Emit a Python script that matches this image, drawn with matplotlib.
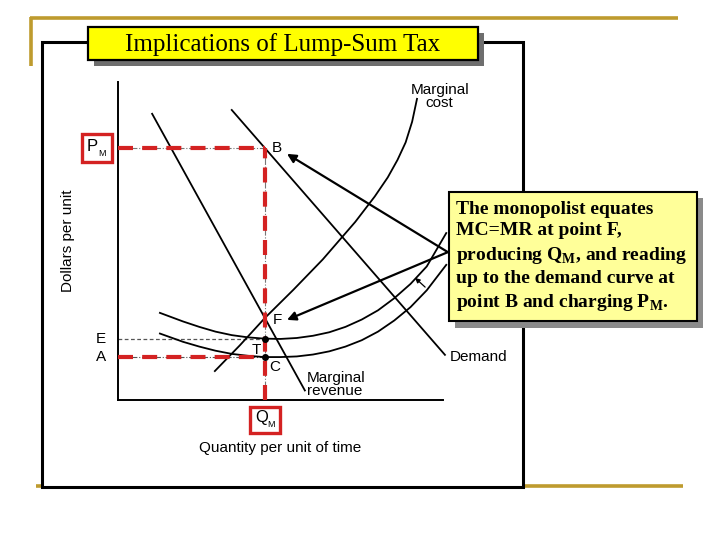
import matplotlib
matplotlib.use("Agg")
import matplotlib.pyplot as plt
from matplotlib.patches import Rectangle

plt.rcParams['mathtext.fontset'] = 'custom'
plt.rcParams['mathtext.rm'] = 'Liberation Serif:bold'
plt.rcParams['mathtext.bf'] = 'Liberation Serif:bold'

# ---------------- data (quantity, dollars per unit) ----------------
demand_q = [3.5, 10.06]
demand_p = [9.12, 1.42]
mr_q = [1.05, 5.75]
mr_p = [9.0, 0.3]
mc_q = [2.98, 3.75, 4.52, 5.4, 6.3, 7.3, 7.9, 8.3, 8.6, 8.85, 9.05, 9.2]
mc_p = [0.91, 1.72, 2.58, 3.47, 4.42, 5.6, 6.4, 7.0, 7.55, 8.1, 8.75, 9.47]
atc_tax_q = [1.29, 2.0, 2.5, 3.0, 3.5, 4.0, 4.5, 5.0, 5.5, 6.0, 6.5, 7.0, 7.5, 8.0, 8.5, 9.0, 9.5, 10.1]
atc_tax_p = [2.74, 2.47, 2.3, 2.15, 2.04, 1.97, 1.93, 1.92, 1.95, 2.02, 2.13, 2.3, 2.53, 2.82, 3.2, 3.65, 4.2, 5.25]
atc_q = [1.29, 2.0, 2.5, 3.0, 3.5, 4.0, 4.5, 5.0, 5.5, 6.0, 6.5, 7.0, 7.5, 8.0, 8.5, 9.0, 9.5, 10.1]
atc_p = [2.09, 1.83, 1.68, 1.55, 1.45, 1.39, 1.35, 1.35, 1.37, 1.43, 1.53, 1.68, 1.88, 2.15, 2.5, 2.92, 3.45, 4.25]
QM = 4.52
PM = 7.92
E_level = 1.92
A_level = 1.35
F_level = 2.58
callout_tail = (10.15, 4.65)
head_B = (5.2, 7.74)
head_F = (5.2, 2.52)
shift_tail = (9.45, 3.55)
shift_head = (9.14, 3.84)

title = "Implications of Lump-Sum Tax"
callout = ("The monopolist equates\n"
           "MC=MR at point F,\n"
           "producing Q$_{\\mathrm{M}}$, and reading\n"
           "up to the demand curve at\n"
           "point B and charging P$_{\\mathrm{M}}$.")

GOLD = '#BE9B2E'
RED = '#D42222'
SANS = 'Liberation Sans'
SERIF = 'Liberation Serif'

fig = plt.figure(figsize=(7.2, 5.4), dpi=100)

# ---------------- slide background / frame ----------------
bg = fig.add_axes([0, 0, 1, 1], zorder=0)
bg.set_xlim(0, 720)
bg.set_ylim(540, 0)
bg.axis('off')
bg.plot([30, 678], [18, 18], color=GOLD, lw=2.6, solid_capstyle='butt', zorder=1)
bg.plot([31, 31], [17, 66], color=GOLD, lw=2.6, solid_capstyle='butt', zorder=1)
bg.plot([36, 683], [486, 486], color=GOLD, lw=2.6, solid_capstyle='butt', zorder=1)
bg.add_patch(Rectangle((42, 42), 481, 445, facecolor='white', edgecolor='black', lw=2.2,
                       zorder=3))

# ---------------- diagram ----------------
ax = fig.add_axes([118 / 720, 140 / 540, 325 / 720, 318 / 540], zorder=2)
ax.set_xlim(0, 10)
ax.set_ylim(0, 10)
ax.patch.set_alpha(0)
for s in ['top', 'right']:
    ax.spines[s].set_visible(False)
for s in ['left', 'bottom']:
    ax.spines[s].set_linewidth(1.4)
ax.set_xticks([])
ax.set_yticks([])

kw = dict(color='black', lw=1.3, clip_on=False)
ax.plot(demand_q, demand_p, **kw)
ax.plot(mr_q, mr_p, **kw)
ax.plot(mc_q, mc_p, **kw)
ax.plot(atc_tax_q, atc_tax_p, **kw)
ax.plot(atc_q, atc_p, **kw)

# thin guide lines of the original diagram
ax.plot([0, QM], [PM, PM], color='#777777', lw=0.8, ls='-.', zorder=1)
ax.plot([QM, QM], [0, PM], color='#777777', lw=0.8, ls='-.', zorder=1)
ax.plot([0, QM], [A_level, A_level], color='#555555', lw=0.8, ls='-.', zorder=1)
ax.plot([0, QM], [E_level, E_level], color='#555555', lw=0.9, ls=(0, (3, 2)), zorder=1)

# red dashed highlights
rd = dict(color=RED, lw=3.0, ls=(0, (3.6, 2.2)), zorder=4, solid_capstyle='butt')
ax.plot([0, QM], [PM, PM], **rd)
ax.plot([QM, QM], [0, PM], **rd)
ax.plot([0, QM], [A_level, A_level], **rd)

ax.plot([QM, QM], [E_level, A_level], 'o', color='black', ms=4, zorder=5)

# arrows from callout
ap = dict(arrowstyle='-|>', color='black', lw=1.6, mutation_scale=13, shrinkA=0, shrinkB=0)
ax.annotate('', xy=head_B, xytext=callout_tail, arrowprops=ap, annotation_clip=False)
ax.annotate('', xy=head_F, xytext=callout_tail, arrowprops=ap, annotation_clip=False)
ax.annotate('', xy=shift_head, xytext=shift_tail,
            arrowprops=dict(arrowstyle='-|>', color='black', lw=0.9, mutation_scale=7,
                            shrinkA=0, shrinkB=0), annotation_clip=False)

tk = dict(fontfamily=SANS, fontsize=11, color='black', clip_on=False)
ax.text(QM + 0.22, PM, 'B', ha='left', va='center', **tk)
ax.text(QM + 0.25, F_level - 0.05, 'F', ha='left', va='center', **tk)
ax.text(QM - 0.25, E_level - 0.35, 'T', ha='center', va='center', **tk)
ax.text(QM + 0.3, A_level - 0.3, 'C', ha='center', va='center', **tk)
ax.text(-0.52, E_level, 'E', ha='center', va='center', **tk)
ax.text(-0.52, A_level, 'A', ha='center', va='center', **tk)
ax.text(10.2, A_level, 'Demand', ha='left', va='center', **tk)
ax.text(5.8, 0.5, 'Marginal\nrevenue', ha='left', va='center', linespacing=0.9, **tk)
ax.text(9.9, 9.55, 'Marginal\ncost', ha='center', va='center', linespacing=0.9, **tk)
ax.text(4.98, -1.52, 'Quantity per unit of time', ha='center', va='center', **tk)
ax.text(-1.54, 5.0, 'Dollars per unit', ha='center', va='center', rotation=90, **tk)

# boxed labels P_M and Q_M
ax.add_patch(Rectangle((-1.11, PM - 0.42), 0.93, 0.85, facecolor='white', edgecolor=RED,
                       lw=2.4, clip_on=False, zorder=6))
ax.text(-0.8, PM + 0.06, 'P', ha='center', va='center', fontfamily=SANS, fontsize=12,
        clip_on=False, zorder=7)
ax.text(-0.5, PM - 0.17, 'M', ha='center', va='center', fontfamily=SANS, fontsize=6.5,
        clip_on=False, zorder=7)
ax.add_patch(Rectangle((QM - 0.46, -1.04), 0.92, 0.82, facecolor='white', edgecolor=RED,
                       lw=2.4, clip_on=False, zorder=6))
ax.text(QM - 0.1, -0.55, 'Q', ha='center', va='center', fontfamily=SANS, fontsize=12,
        clip_on=False, zorder=7)
ax.text(QM + 0.2, -0.78, 'M', ha='center', va='center', fontfamily=SANS, fontsize=6.5,
        clip_on=False, zorder=7)

# ---------------- overlays: title & callout ----------------
ov = fig.add_axes([0, 0, 1, 1], zorder=10)
ov.set_xlim(0, 720)
ov.set_ylim(540, 0)
ov.axis('off')
ov.patch.set_alpha(0)

# title box
ov.add_patch(Rectangle((94, 33), 390, 33, facecolor='#6E6E6E', edgecolor='none'))
ov.add_patch(Rectangle((88, 27), 390, 33, facecolor='#FFFF00', edgecolor='black', lw=1.6))
ov.text(283, 45, title, ha='center', va='center', fontfamily=SERIF, fontsize=18)

# callout box
ov.add_patch(Rectangle((455, 198), 248, 130, facecolor='#8A8A8A', edgecolor='none'))
ov.add_patch(Rectangle((449, 192), 248, 129, facecolor='#FFFF99', edgecolor='black', lw=1.5))
ov.text(456, 257, callout, ha='left', va='center', fontfamily=SERIF, fontweight='bold',
        fontsize=14, linespacing=1.34)

fig.savefig('out.png', dpi=100)
